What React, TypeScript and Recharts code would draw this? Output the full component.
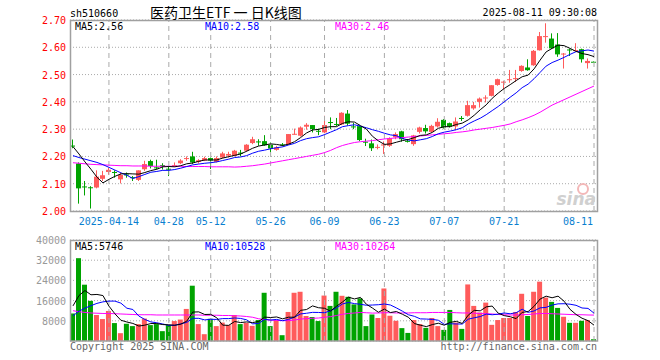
import React from 'react';
import { ComposedChart, Bar, Line, XAxis, YAxis, CartesianGrid, ReferenceLine, Cell } from 'recharts';

const DATES = [
  '2025-04-03', '2025-04-07', '2025-04-08', '2025-04-09', '2025-04-10', '2025-04-11',
  '2025-04-14', '2025-04-15', '2025-04-16', '2025-04-17', '2025-04-18',
  '2025-04-21', '2025-04-22', '2025-04-23', '2025-04-24', '2025-04-25',
  '2025-04-28', '2025-04-29', '2025-04-30',
  '2025-05-06', '2025-05-07', '2025-05-08', '2025-05-09',
  '2025-05-12', '2025-05-13', '2025-05-14', '2025-05-15', '2025-05-16',
  '2025-05-19', '2025-05-20', '2025-05-21', '2025-05-22', '2025-05-23',
  '2025-05-26', '2025-05-27', '2025-05-28', '2025-05-29', '2025-05-30',
  '2025-06-03', '2025-06-04', '2025-06-05', '2025-06-06',
  '2025-06-09', '2025-06-10', '2025-06-11', '2025-06-12', '2025-06-13',
  '2025-06-16', '2025-06-17', '2025-06-18', '2025-06-19', '2025-06-20',
  '2025-06-23', '2025-06-24', '2025-06-25', '2025-06-26', '2025-06-27',
  '2025-06-30', '2025-07-01', '2025-07-02', '2025-07-03', '2025-07-04',
  '2025-07-07', '2025-07-08', '2025-07-09', '2025-07-10', '2025-07-11',
  '2025-07-14', '2025-07-15', '2025-07-16', '2025-07-17', '2025-07-18',
  '2025-07-21', '2025-07-22', '2025-07-23', '2025-07-24', '2025-07-25',
  '2025-07-28', '2025-07-29', '2025-07-30', '2025-07-31',
  '2025-08-01', '2025-08-04', '2025-08-05', '2025-08-06', '2025-08-07', '2025-08-08',
  '2025-08-11',
];

const OPEN = [
  2.240, 2.174, 2.090, 2.087, 2.086, 2.118, 2.143, 2.143, 2.116, 2.134,
  2.124, 2.114, 2.153, 2.183, 2.160, 2.168, 2.155, 2.166, 2.175, 2.192,
  2.200, 2.180, 2.185, 2.194, 2.180, 2.196, 2.203, 2.202, 2.214, 2.221,
  2.249, 2.255, 2.256, 2.243, 2.224, 2.244, 2.245, 2.281, 2.276, 2.309,
  2.315, 2.294, 2.288, 2.326, 2.319, 2.317, 2.357, 2.310, 2.311, 2.254,
  2.248, 2.233, 2.240, 2.239, 2.270, 2.292, 2.257, 2.245, 2.290, 2.304,
  2.290, 2.310, 2.334, 2.322, 2.310, 2.341, 2.349, 2.376, 2.400, 2.414,
  2.422, 2.462, 2.472, 2.481, 2.485, 2.513, 2.526, 2.534, 2.589, 2.640,
  2.632, 2.610, 2.575, 2.592, 2.588, 2.593, 2.542, 2.547,
];
const HIGH = [
  2.262, 2.178, 2.110, 2.091, 2.149, 2.147, 2.159, 2.149, 2.141, 2.141,
  2.128, 2.149, 2.184, 2.188, 2.188, 2.175, 2.163, 2.178, 2.190, 2.200,
  2.217, 2.190, 2.199, 2.196, 2.200, 2.217, 2.217, 2.224, 2.224, 2.245,
  2.272, 2.263, 2.278, 2.251, 2.239, 2.249, 2.282, 2.302, 2.310, 2.322,
  2.315, 2.302, 2.349, 2.343, 2.341, 2.362, 2.370, 2.323, 2.313, 2.265,
  2.262, 2.244, 2.255, 2.270, 2.288, 2.294, 2.263, 2.279, 2.309, 2.316,
  2.316, 2.340, 2.337, 2.324, 2.343, 2.348, 2.404, 2.400, 2.416, 2.424,
  2.461, 2.485, 2.477, 2.517, 2.517, 2.534, 2.556, 2.590, 2.656, 2.688,
  2.651, 2.652, 2.579, 2.595, 2.615, 2.595, 2.559, 2.548,
];
const LOW = [
  2.230, 2.027, 2.057, 2.009, 2.083, 2.110, 2.133, 2.122, 2.101, 2.122,
  2.110, 2.110, 2.147, 2.156, 2.153, 2.152, 2.128, 2.163, 2.172, 2.184,
  2.172, 2.174, 2.183, 2.154, 2.178, 2.193, 2.196, 2.200, 2.200, 2.217,
  2.245, 2.239, 2.239, 2.215, 2.221, 2.237, 2.243, 2.280, 2.273, 2.298,
  2.288, 2.278, 2.285, 2.300, 2.311, 2.315, 2.313, 2.300, 2.256, 2.238,
  2.220, 2.226, 2.209, 2.235, 2.263, 2.254, 2.251, 2.239, 2.284, 2.284,
  2.288, 2.306, 2.302, 2.306, 2.296, 2.330, 2.346, 2.371, 2.379, 2.398,
  2.420, 2.459, 2.446, 2.470, 2.473, 2.510, 2.514, 2.532, 2.588, 2.617,
  2.594, 2.565, 2.522, 2.568, 2.587, 2.544, 2.522, 2.545,
];
const CLOSE = [
  2.236, 2.083, 2.088, 2.085, 2.126, 2.131, 2.151, 2.141, 2.132, 2.132,
  2.122, 2.149, 2.172, 2.165, 2.158, 2.165, 2.153, 2.168, 2.185, 2.194,
  2.178, 2.186, 2.194, 2.185, 2.194, 2.211, 2.209, 2.221, 2.212, 2.243,
  2.263, 2.253, 2.241, 2.229, 2.233, 2.242, 2.282, 2.283, 2.306, 2.316,
  2.300, 2.291, 2.315, 2.324, 2.317, 2.360, 2.320, 2.308, 2.260, 2.252,
  2.230, 2.235, 2.244, 2.267, 2.282, 2.263, 2.255, 2.277, 2.306, 2.292,
  2.312, 2.327, 2.306, 2.310, 2.328, 2.339, 2.388, 2.388, 2.412, 2.416,
  2.461, 2.483, 2.474, 2.483, 2.487, 2.532, 2.516, 2.587, 2.641, 2.641,
  2.596, 2.574, 2.577, 2.590, 2.590, 2.556, 2.550, 2.546,
];

const MA5 = [
  2.236, 2.209, 2.180, 2.153, 2.124, 2.103, 2.116, 2.127, 2.136, 2.137,
  2.136, 2.135, 2.141, 2.148, 2.153, 2.162, 2.163, 2.162, 2.166, 2.173,
  2.176, 2.182, 2.187, 2.187, 2.187, 2.194, 2.199, 2.204, 2.209, 2.219,
  2.230, 2.238, 2.242, 2.246, 2.244, 2.240, 2.245, 2.254, 2.269, 2.286,
  2.297, 2.299, 2.306, 2.309, 2.309, 2.321, 2.327, 2.326, 2.313, 2.300,
  2.274, 2.257, 2.244, 2.246, 2.252, 2.258, 2.262, 2.269, 2.277, 2.279,
  2.288, 2.303, 2.309, 2.309, 2.317, 2.322, 2.334, 2.351, 2.371, 2.389,
  2.413, 2.432, 2.449, 2.463, 2.478, 2.492, 2.498, 2.521, 2.553, 2.583,
  2.596, 2.608, 2.606, 2.596, 2.585, 2.577, 2.573, 2.566,
];
const MA10 = [
  2.203, 2.196, 2.190, 2.184, 2.178, 2.170, 2.160, 2.150, 2.140, 2.131,
  2.119, 2.126, 2.134, 2.142, 2.145, 2.149, 2.149, 2.152, 2.157, 2.163,
  2.169, 2.172, 2.175, 2.177, 2.180, 2.185, 2.190, 2.196, 2.198, 2.203,
  2.212, 2.219, 2.223, 2.228, 2.232, 2.235, 2.242, 2.248, 2.258, 2.265,
  2.269, 2.272, 2.280, 2.289, 2.298, 2.309, 2.313, 2.316, 2.311, 2.305,
  2.298, 2.292, 2.285, 2.279, 2.276, 2.266, 2.260, 2.257, 2.261, 2.265,
  2.273, 2.283, 2.289, 2.293, 2.298, 2.305, 2.319, 2.330, 2.340, 2.353,
  2.368, 2.383, 2.400, 2.417, 2.433, 2.452, 2.465, 2.485, 2.508, 2.531,
  2.544, 2.553, 2.563, 2.574, 2.584, 2.587, 2.590, 2.586,
];
const MA30 = [
  2.177, 2.175, 2.173, 2.171, 2.170, 2.169, 2.168, 2.167, 2.166, 2.166,
  2.165, 2.165, 2.165, 2.164, 2.164, 2.164, 2.164, 2.164, 2.164, 2.163,
  2.163, 2.163, 2.163, 2.162, 2.162, 2.162, 2.162, 2.161, 2.162, 2.164,
  2.166, 2.169, 2.172, 2.176, 2.180, 2.184, 2.188, 2.192, 2.196, 2.200,
  2.204, 2.208, 2.214, 2.222, 2.232, 2.240, 2.246, 2.251, 2.254, 2.256,
  2.258, 2.261, 2.264, 2.266, 2.268, 2.269, 2.271, 2.273, 2.275, 2.277,
  2.279, 2.281, 2.283, 2.285, 2.288, 2.290, 2.293, 2.297, 2.300, 2.303,
  2.306, 2.310, 2.314, 2.319, 2.327, 2.334, 2.342, 2.351, 2.362, 2.375,
  2.388, 2.398, 2.408, 2.418, 2.428, 2.438, 2.448, 2.458,
];

const VOLUME = [
  10900, 32800, 22300, 15900, 10300, 8700, 11900, 7100, 3100, 6800,
  5900, 6700, 8900, 6300, 6700, 3900, 6300, 7900, 8500, 12700,
  21900, 6700, 2700, 8800, 5900, 7300, 6300, 10300, 6700, 7200,
  6000, 8300, 19100, 5900, 8300, 2300, 11500, 19100, 19500, 9900,
  9500, 7900, 18000, 13900, 19500, 17900, 17500, 14500, 16900, 5900,
  10500, 9100, 20800, 10000, 8000, 5100, 3200, 8300, 6700, 5200,
  9100, 5900, 4400, 12300, 7300, 4800, 22400, 13900, 11300, 15200,
  6400, 8300, 9100, 9100, 11500, 18700, 9900, 19500, 23500, 17200,
  15500, 13100, 9600, 7200, 7200, 8000, 8300, 700,
];
const VMA5 = [
  13900, 18000, 20000, 18300, 18440, 18000, 13820, 10780, 8220, 7520,
  6960, 5920, 6280, 6920, 6900, 6500, 6420, 6220, 6660, 7860,
  11460, 11540, 10500, 10560, 9200, 6280, 6200, 7720, 7300, 7560,
  7300, 7700, 9460, 9300, 9520, 8780, 9420, 9420, 12140, 12460,
  13900, 13180, 12960, 11840, 13760, 15440, 17360, 16660, 17260, 14540,
  13060, 11380, 12640, 11260, 11680, 10600, 9420, 6920, 6260, 5700,
  6500, 7040, 6260, 7380, 7800, 6940, 10240, 12140, 11940, 13520,
  13840, 11020, 10060, 9620, 8880, 11340, 11660, 13740, 16620, 17760,
  17120, 17760, 15780, 12520, 10520, 9020, 8060, 6280,
];
const VMA10 = [
  10000, 11800, 13000, 14000, 14900, 15500, 15800, 15800, 15000, 12980,
  12480, 9870, 8530, 7570, 7210, 6730, 6170, 6250, 6790, 7380,
  8980, 8980, 8360, 8610, 8530, 8870, 8870, 9110, 8930, 8380,
  6790, 6950, 8590, 8300, 8540, 8040, 8560, 9440, 10720, 10990,
  11340, 11300, 11190, 11990, 13110, 14670, 15270, 14810, 14550, 14150,
  14250, 14370, 14650, 14260, 13110, 11830, 10400, 9780, 8760, 8690,
  8550, 8230, 6590, 6820, 6750, 6720, 8640, 9200, 9660, 10660,
  10390, 10630, 11100, 10780, 11200, 12590, 11340, 11900, 13120, 13320,
  14230, 14710, 14760, 14570, 14140, 13070, 12910, 11030,
];
const VMA30 = [
  12000, 11600, 11300, 11100, 11000, 10900, 10900, 10800, 10700, 10600,
  10500, 10400, 10400, 10400, 10300, 10300, 10300, 10300, 10300, 10300,
  10300, 10300, 10200, 10200, 10200, 10100, 10100, 10000, 9900, 9700,
  9400, 8800, 8500, 8250, 8150, 8050, 8050, 8300, 8700, 8850,
  9000, 9100, 9400, 9650, 10100, 10600, 10900, 11100, 11300, 11200,
  11050, 11100, 11200, 11200, 11100, 11100, 11100, 11200, 11200, 11200,
  11300, 11300, 11300, 11300, 11200, 11100, 11100, 11000, 10900, 10800,
  10700, 10500, 10400, 10300, 10300, 10400, 10500, 10700, 10900, 10900,
  10800, 10700, 10600, 10500, 10400, 10400, 10300, 10264,
];

const TICK_DATES = [
  '2025-04-14', '2025-04-28', '2025-05-12', '2025-05-26', '2025-06-09',
  '2025-06-23', '2025-07-07', '2025-07-21', '2025-08-11',
];
const PRICE_TICKS = [2.0, 2.1, 2.2, 2.3, 2.4, 2.5, 2.6, 2.7];
const VOL_TICKS = [8000, 16000, 24000, 32000, 40000];

const CODE = 'sh510660';
const TITLE = '医药卫生ETF 一 日K线图';
const STAMP = '2025-08-11 09:30:08';
const PRICE_MA_LABELS = ['MA5:2.56', 'MA10:2.58', 'MA30:2.46'];
const VOL_MA_LABELS = ['MA5:5746', 'MA10:10528', 'MA30:10264'];

const RED = '#ff5b5b';
const GREEN = '#00a300';
const MONO = '"DejaVu Sans Mono", "Liberation Mono", monospace';
const GRID = '#aaaaaa';

const rows = DATES.map((date, i) => ({
  date,
  open: OPEN[i],
  high: HIGH[i],
  low: LOW[i],
  close: CLOSE[i],
  ma5: MA5[i],
  ma10: MA10[i],
  ma30: MA30[i],
  vol: VOLUME[i],
  vma5: VMA5[i],
  vma10: VMA10[i],
  vma30: VMA30[i],
}));

const Candle = (props: any) => {
  const { x, y, width, height, payload } = props;
  const color = payload.close >= payload.open ? RED : GREEN;
  const top = Math.min(y, y + height);
  const span = Math.abs(height);
  const range = payload.high - payload.low;
  const k = range > 0 ? span / range : 0;
  const yO = top + (payload.high - payload.open) * k;
  const yC = top + (payload.high - payload.close) * k;
  const bodyTop = Math.min(yO, yC);
  const bodyH = Math.max(1, Math.abs(yO - yC));
  const cx = Math.floor(x + width / 2) + 0.5;
  return (
    <g>
      <line x1={cx} x2={cx} y1={top} y2={top + span} stroke={color} strokeWidth={1} />
      <rect x={cx - 2.5} y={bodyTop} width={5} height={bodyH} fill={color} />
    </g>
  );
};

const PriceTick = (props: any) => {
  const { y, payload } = props;
  return (
    <text x={66} y={y} dy={4} textAnchor="end" fill="#ff0000" fontFamily={MONO} fontSize={10}>
      {payload.value.toFixed(2)}
    </text>
  );
};

const VolTick = (props: any) => {
  const { y, payload } = props;
  return (
    <text x={66} y={y} dy={4} textAnchor="end" fill="#999999" fontFamily={MONO} fontSize={10}>
      {payload.value}
    </text>
  );
};

const DateTick = (props: any) => {
  const { x, payload } = props;
  const d: string = payload.value;
  if (!TICK_DATES.includes(d)) return null;
  const first = d === TICK_DATES[0];
  const last = d === TICK_DATES[TICK_DATES.length - 1];
  return (
    <text
      x={last ? x - 1 : x}
      y={225}
      textAnchor={last ? 'end' : 'middle'}
      fill="#0a7fd0"
      fontFamily={MONO}
      fontSize={10}
    >
      {first ? d : d.slice(5)}
    </text>
  );
};

export default function App() {
  return (
    <div style={{ position: 'absolute', left: 0, top: 0, width: 660, height: 360, background: '#fff' }}>
      <div style={{ position: 'absolute', left: 0, top: 0 }}>
        <ComposedChart width={660} height={236} data={rows} margin={{ top: 20, right: 63, left: 0, bottom: 5 }}>
          <CartesianGrid vertical={false} stroke={GRID} strokeDasharray="1 2" />
          {TICK_DATES.map((d) => (
            <ReferenceLine key={d} x={d} stroke={GRID} strokeDasharray="5 4" />
          ))}
          <XAxis dataKey="date" interval={0} height={20} axisLine={false} tickLine={false} tick={<DateTick />} />
          <YAxis
            width={70}
            domain={[2.0, 2.7]}
            ticks={PRICE_TICKS}
            interval={0}
            allowDataOverflow
            axisLine={false}
            tickLine={false}
            tick={<PriceTick />}
          />
          <Bar dataKey={(d: any) => [d.low, d.high]} barSize={5} shape={Candle} isAnimationActive={false} />
          <Line type="linear" dataKey="ma30" stroke="#ff00ff" strokeWidth={1} dot={false} isAnimationActive={false} />
          <Line type="linear" dataKey="ma10" stroke="#0000ff" strokeWidth={1} dot={false} isAnimationActive={false} />
          <Line type="linear" dataKey="ma5" stroke="#000000" strokeWidth={1} dot={false} isAnimationActive={false} />
        </ComposedChart>
      </div>
      <div style={{ position: 'absolute', left: 0, top: 0 }}>
        <ComposedChart width={660} height={360} data={rows} margin={{ top: 240, right: 63, left: 0, bottom: 19 }} barCategoryGap={1}>
          <CartesianGrid vertical={false} stroke={GRID} strokeDasharray="1 2" />
          {TICK_DATES.map((d) => (
            <ReferenceLine key={d} x={d} stroke={GRID} strokeDasharray="5 4" />
          ))}
          <XAxis dataKey="date" hide />
          <YAxis
            width={70}
            domain={[0, 40000]}
            ticks={VOL_TICKS}
            interval={0}
            axisLine={false}
            tickLine={false}
            tick={<VolTick />}
          />
          <Bar dataKey="vol" barSize={5} isAnimationActive={false}>
            {rows.map((r) => (
              <Cell key={r.date} fill={r.close >= r.open ? RED : GREEN} />
            ))}
          </Bar>
          <Line type="linear" dataKey="vma30" stroke="#ff00ff" strokeWidth={1} dot={false} isAnimationActive={false} />
          <Line type="linear" dataKey="vma10" stroke="#0000ff" strokeWidth={1} dot={false} isAnimationActive={false} />
          <Line type="linear" dataKey="vma5" stroke="#000000" strokeWidth={1} dot={false} isAnimationActive={false} />
        </ComposedChart>
      </div>
      <svg width={660} height={360} style={{ position: 'absolute', left: 0, top: 0, pointerEvents: 'none' }}>
        <rect x={70.5} y={20.5} width={527} height={191} fill="none" stroke="#a0a0a0" strokeWidth={1.5} />
        <rect x={70.5} y={240.5} width={527} height={100.5} fill="none" stroke="#a0a0a0" strokeWidth={1.5} />
        <text x={70} y={17} fontFamily={MONO} fontSize={10} fill="#000">{CODE}</text>
        <text x={150} y={18} fontFamily='"Noto Sans CJK SC", sans-serif' fontSize={14} fill="#000">{TITLE}</text>
        <text x={597} y={16} textAnchor="end" fontFamily={MONO} fontSize={10} fill="#000">{STAMP}</text>
        <text x={75} y={30} fontFamily={MONO} fontSize={10} fill="#000">{PRICE_MA_LABELS[0]}</text>
        <text x={205} y={30} fontFamily={MONO} fontSize={10} fill="#0000ff">{PRICE_MA_LABELS[1]}</text>
        <text x={335} y={30} fontFamily={MONO} fontSize={10} fill="#ff00ff">{PRICE_MA_LABELS[2]}</text>
        <text x={75} y={250} fontFamily={MONO} fontSize={10} fill="#000">{VOL_MA_LABELS[0]}</text>
        <text x={205} y={250} fontFamily={MONO} fontSize={10} fill="#0000ff">{VOL_MA_LABELS[1]}</text>
        <text x={335} y={250} fontFamily={MONO} fontSize={10} fill="#ff00ff">{VOL_MA_LABELS[2]}</text>
        <text x={70} y={350} fontFamily={MONO} fontSize={10} fill="#666">Copyright 2025 SINA.COM</text>
        <text x={597} y={350} textAnchor="end" fontFamily={MONO} fontSize={10} fill="#666">http://finance.sina.com.cn</text>
        <circle cx={583} cy={189} r={5} fill="none" stroke="#f3b8b8" strokeWidth={2} />
        <text x={596} y={205} textAnchor="end" fontFamily='"DejaVu Sans", sans-serif' fontStyle="italic" fontWeight="bold" fontSize={17} fill="#d0d0d0">sina</text>
      </svg>
    </div>
  );
}
